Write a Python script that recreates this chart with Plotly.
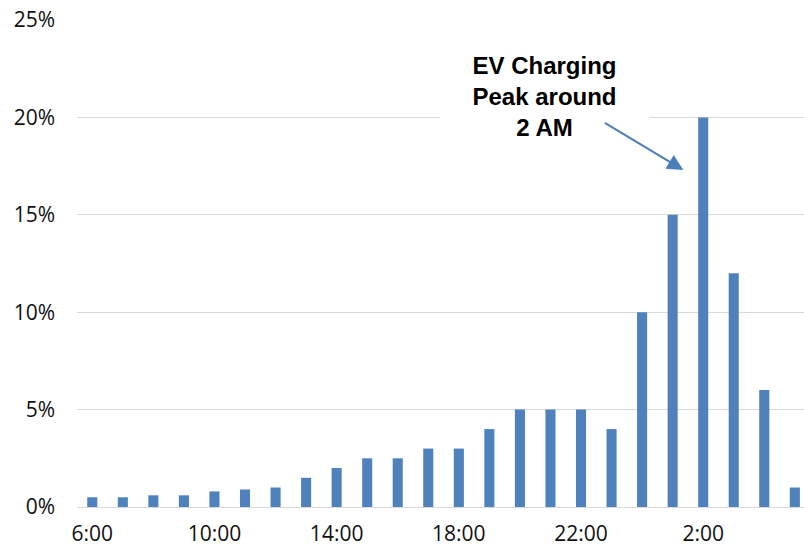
import plotly.graph_objects as go

# Hourly share of daily EV charging load, starting at 6:00
hours = ["6:00", "7:00", "8:00", "9:00", "10:00", "11:00", "12:00", "13:00",
         "14:00", "15:00", "16:00", "17:00", "18:00", "19:00", "20:00", "21:00",
         "22:00", "23:00", "0:00", "1:00", "2:00", "3:00", "4:00", "5:00"]
share = [0.005, 0.005, 0.006, 0.006, 0.008, 0.009, 0.010, 0.015,
         0.020, 0.025, 0.025, 0.030, 0.030, 0.040, 0.050, 0.050,
         0.050, 0.040, 0.100, 0.150, 0.200, 0.120, 0.060, 0.010]
tick_every = 4

idx = list(range(len(hours)))
tick_idx = idx[::tick_every]
tick_txt = hours[::tick_every]

fig = go.Figure(go.Bar(
    x=idx, y=share, width=0.33,
    marker=dict(color="#4F81BD", line=dict(width=0)),
))

fig.add_annotation(
    x=0.643, y=0.842, xref="paper", yref="paper",
    xanchor="center", yanchor="middle",
    text="<b>EV Charging<br>Peak around<br>2 AM</b>",
    showarrow=False, bgcolor="white", width=205, borderpad=2,
    font=dict(family="Liberation Sans, Arial, sans-serif", size=24, color="#000000"),
)
fig.add_annotation(
    x=19.35, y=0.173, xref="x", yref="y",
    ax=-80, ay=-48, text="",
    showarrow=True, arrowhead=2, arrowsize=1.6, arrowwidth=2, arrowcolor="#4A7EBB",
)

fig.update_layout(
    width=804, height=546,
    margin=dict(l=77, r=0, t=20, b=39),
    plot_bgcolor="white", paper_bgcolor="white",
    showlegend=False,
    font=dict(family="Open Sans, Liberation Sans, sans-serif", size=21, color="#111111"),
    xaxis=dict(
        range=[-0.5, 23.3], tickmode="array", tickvals=tick_idx, ticktext=tick_txt,
        showgrid=False, showline=False, zeroline=False, ticks="",
        tickfont=dict(size=21), ticklabelstandoff=12,
    ),
    yaxis=dict(
        range=[0, 0.25], dtick=0.05, tickformat=".0%",
        showgrid=True, gridcolor="#D9D9D9", gridwidth=1.3,
        zeroline=True, zerolinecolor="#D9D9D9", zerolinewidth=1.3,
        showline=False, ticks="", ticklabelstandoff=21,
        tickfont=dict(size=21),
    ),
)

fig.write_html("out.html")
